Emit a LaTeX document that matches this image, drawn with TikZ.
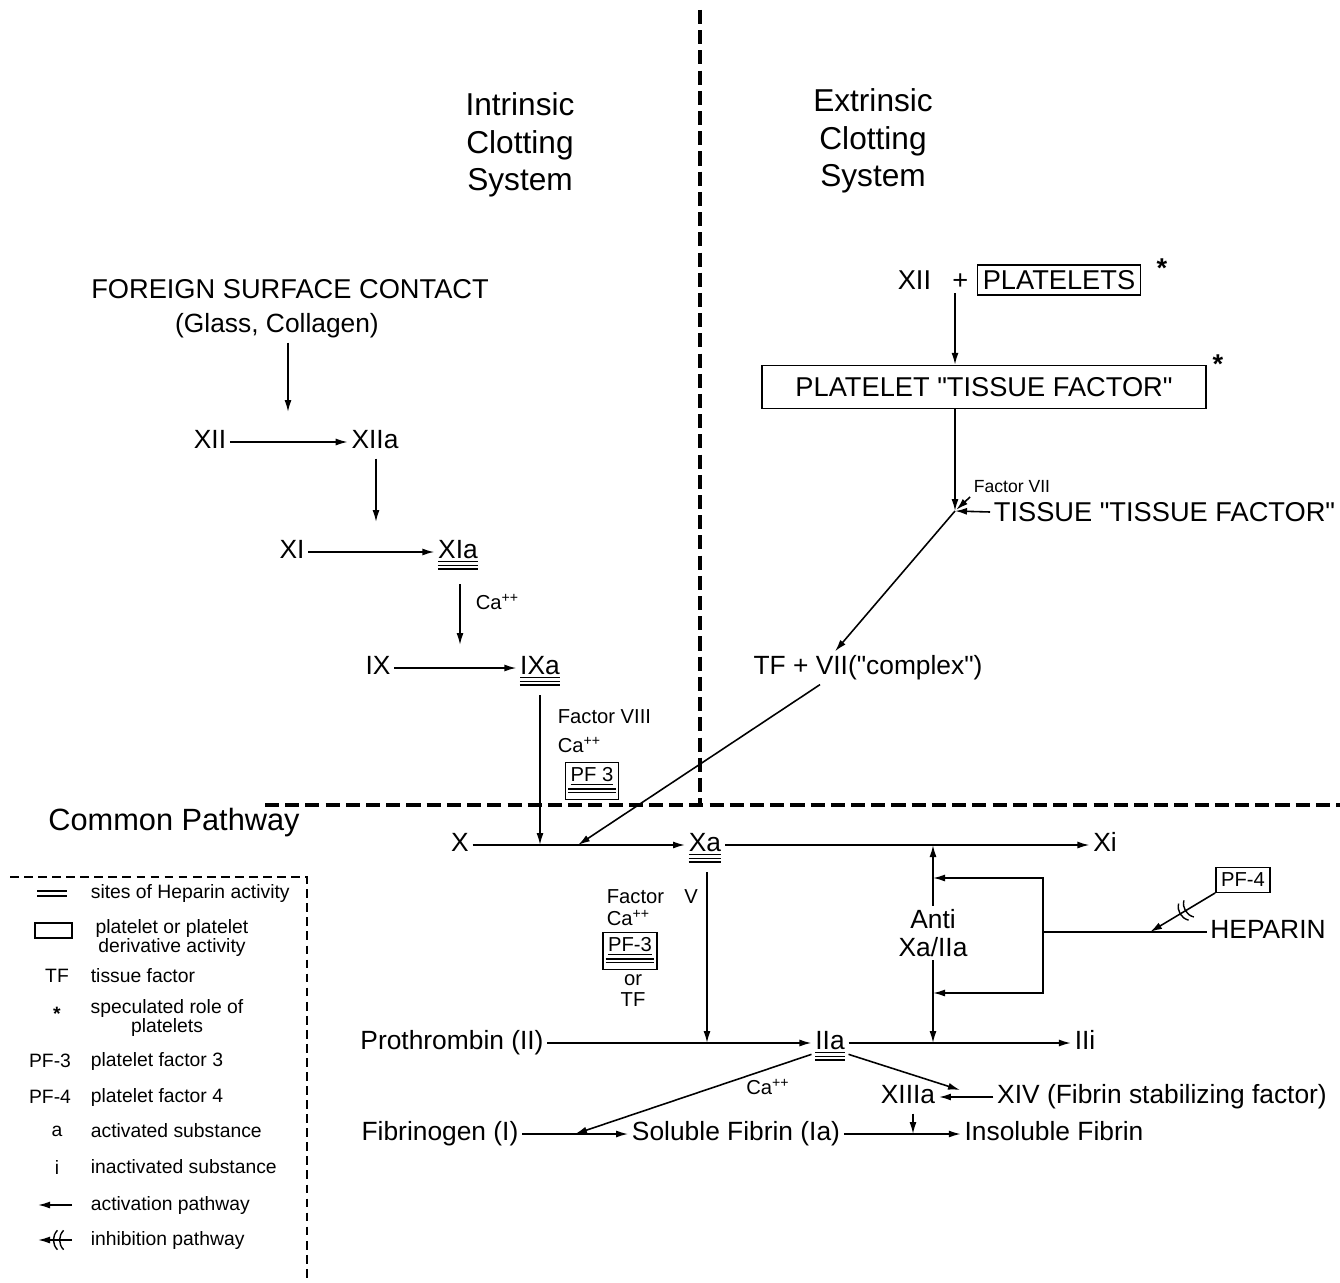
\documentclass[tikz,border=0pt]{standalone}
\usepackage{fontspec}
\setmainfont{Liberation Sans}
\usetikzlibrary{arrows.meta, positioning, decorations.markings}

\begin{document}
\begin{tikzpicture}[
  >={Latex[length=2.4mm, width=1.4mm]},
  every node/.style={inner sep=2pt},
  lbl/.style={font=\fontsize{15}{18}\selectfont, text height=11pt, text depth=3.5pt},
  caps/.style={font=\fontsize{15.5}{18}\selectfont},
  title/.style={font=\fontsize{18}{21.5}\selectfont, align=center},
  small/.style={font=\fontsize{11.5}{13}\selectfont},
  tiny/.style={font=\fontsize{10}{11}\selectfont},
  legend/.style={font=\fontsize{11}{9.5}\selectfont, align=center},
  box/.style={draw, line width=0.8pt, inner sep=3pt},
  hepline/.style={-, line width=0.8pt},
  hep/.style={append after command={
    ([xshift=2pt,yshift=-4pt]\tikzlastnode.base west) edge[hepline] ([xshift=-2pt,yshift=-4pt]\tikzlastnode.base east)
    ([xshift=2pt,yshift=-6pt]\tikzlastnode.base west) edge[hepline] ([xshift=-2pt,yshift=-6pt]\tikzlastnode.base east)}},
  arr/.style={->, line width=0.9pt},
  inh/.style={->, line width=0.9pt, decoration={markings, mark=at position #1 with {
      \draw[-, line width=0.8pt] (-2pt,-5.5pt) to[bend right=45] (-2pt,5.5pt);
      \draw[-, line width=0.8pt] (1.5pt,-5.5pt) to[bend right=45] (1.5pt,5.5pt);}},
    postaction={decorate}},
  inh/.default=0.5,
  divider/.style={line width=2.6pt, dash pattern=on 8pt off 3.5pt},
  legbox/.style={line width=0.7pt, dash pattern=on 5pt off 3pt},
]

\useasboundingbox (0,0) rectangle (26.8,-25.64);

% Dividers
\draw[divider] (14.0,-0.2) -- (14.0,-16.14);
\draw[divider] (5.3,-16.1) -- (26.8,-16.1);

% Titles
\node[title] (intr) at (10.4,-2.9) {Intrinsic\\Clotting\\System};
\node[title] (extr) at (17.46,-2.82) {Extrinsic\\Clotting\\System};
\node[title, anchor=west, font=\fontsize{17.5}{21}\selectfont] (common) at (0.89,-16.46) {Common Pathway};

% =============================================
% Intrinsic system
% =============================================
\node[caps] (fsc) at (5.8,-5.78) {FOREIGN SURFACE CONTACT};
\node[lbl] (glass) at (5.54,-6.52) {(Glass, Collagen)};
\node[lbl] (xii) at (4.2,-8.84) {XII};
\node[lbl] (xiia) at (7.5,-8.84) {XIIa};
\node[lbl] (xi) at (5.84,-11.04) {XI};
\node[lbl, hep] (xia) at (9.16,-11.04) {\underline{XIa}};
\node[lbl] (ix) at (7.56,-13.36) {IX};
\node[lbl, hep] (ixa) at (10.8,-13.36) {\underline{IXa}};

\coordinate (c1) at (5.76,-8.24);
\coordinate (c2) at (7.52,-10.44);
\coordinate (c3) at (9.2,-12.9);

\draw[arr] (glass.south -| c1) -- (c1);
\draw[arr] (xii) -- (xiia);
\draw[arr] (xiia.south -| c2) -- (c2);
\draw[arr] (xi) -- (xia);
\draw[arr, shorten <=9pt] (xia.south -| c3) -- (c3);
\node[small, anchor=west] (ca1) at (9.44,-12.04) {Ca\textsuperscript{++}};
\draw[arr] (ix) -- (ixa);

% IXa -> X
\node[small, anchor=west] (f8) at (11.08,-14.34) {Factor VIII};
\node[small, anchor=west] (ca2) at (11.08,-14.9) {Ca\textsuperscript{++}};
\node[small, box, hep, text depth=7pt] (pf3a) at (11.84,-15.62) {\underline{PF 3}};

% =============================================
% Extrinsic system
% =============================================
\node[caps] (xiipl) at (18.66,-5.6) {XII\enspace\ +};
\node[caps, box] (plat) at (21.18,-5.6) {PLATELETS};
\node[caps, font=\fontsize{15.5}{18}\bfseries] (st1) at (23.24,-5.37) {*};
\node[caps, box, minimum width=8.88cm, minimum height=0.86cm] (ptf) at (19.68,-7.74)
  {PLATELET \textquotedbl TISSUE FACTOR\textquotedbl};
\node[caps, font=\fontsize{15.5}{18}\bfseries] (st2) at (24.36,-7.29) {*};

\coordinate (jn) at (19.1,-10.22);
\draw[arr] (xiipl.south -| jn) -- (ptf.north -| jn);
\draw[arr] (ptf.south -| jn) -- (jn);
\node[tiny] (f7) at (20.24,-9.74) {Factor VII};
\draw[arr, shorten >=1pt] (f7.south west) -- (jn);
\node[caps, anchor=west] (tis) at (19.8,-10.24) {TISSUE \textquotedbl TISSUE FACTOR\textquotedbl};
\draw[arr] (tis.west) -- (jn);

\node[lbl] (tfc) at (17.36,-13.36) {TF + VII(\textquotedbl complex\textquotedbl)};
\draw[arr] (jn) -- ([xshift=-6.6mm]tfc.north);

% =============================================
% Common pathway
% =============================================
\node[lbl] (x) at (9.2,-16.9) {X};
\node[lbl, hep] (xa) at (14.1,-16.9) {\underline{Xa}};
\node[lbl] (xinact) at (22.1,-16.9) {Xi};
\draw[arr] (x) -- (xa);
\draw[arr] (xa) -- (xinact);

\coordinate (c4) at (10.8,-16.9);
\coordinate (c6) at (11.56,-16.9);
\draw[arr, shorten <=6pt] (ixa.south) -- (c4);
\draw[arr] ([xshift=-9.6mm]tfc.south) -- (c6);

% Xa -> IIa
\node[small, anchor=west] (f5) at (12.06,-17.94) {Factor\quad V};
\node[small, anchor=west] (ca3) at (12.06,-18.36) {Ca\textsuperscript{++}};
\node[small, box, hep, text depth=7pt] (pf3b) at (12.6,-19.02) {\underline{PF-3}};
\node[small] (or) at (12.66,-19.6) {or};
\node[small] (tf) at (12.66,-20.0) {TF};

\node[lbl] (pro) at (9.04,-20.86) {Prothrombin (II)};
\node[lbl, hep] (iia) at (16.6,-20.86) {\underline{IIa}};
\node[lbl] (iii) at (21.7,-20.86) {IIi};
\draw[arr] (pro) -- (iia);
\draw[arr] (iia) -- (iii);

\coordinate (c7) at (14.14,-20.86);
\draw[arr, shorten <=6pt] (xa.south -| c7) -- (c7);

% Heparin loop
\node[font=\fontsize{15}{15.5}\selectfont, align=center] (anti) at (18.66,-18.66) {Anti\\Xa/IIa};
\coordinate (c8) at (18.66,-16.9);
\coordinate (c9) at (18.66,-20.86);
\draw[arr] (anti.north) -- (c8);
\draw[arr] (anti.south) -- (c9);

\node[lbl] (heparin) at (25.36,-18.64) {HEPARIN};
\coordinate (hx) at (20.86,-18.64);
\coordinate (atop) at (18.66,-17.56);
\coordinate (abot) at (18.66,-19.86);
\coordinate (hin) at (23.0,-18.64);
\draw[line width=0.9pt] (heparin.west) -- (hx);
\draw[arr] (hx) |- (atop);
\draw[arr] (hx) |- (abot);

\node[small, box] (pf4) at (24.86,-17.6) {PF-4};
\draw[inh=0.45] (pf4.south west) -- (hin);

% Fibrin
\node[lbl] (fib) at (8.8,-22.68) {Fibrinogen (I)};
\node[lbl] (sol) at (14.72,-22.68) {Soluble Fibrin (Ia)};
\node[lbl] (insol) at (21.08,-22.68) {Insoluble Fibrin};
\draw[arr] (fib) -- (sol);
\draw[arr] (sol) -- (insol);

\coordinate (c10) at (11.5,-22.68);
\draw[arr] ([yshift=3pt]iia.south west) -- (c10);
\node[small] (ca4) at (15.36,-21.74) {Ca\textsuperscript{++}};

\node[lbl] (xiiia) at (18.16,-21.94) {XIIIa};
\node[lbl] (xiv) at (23.24,-21.94) {XIV (Fibrin stabilizing factor)};
\draw[arr] (xiv) -- (xiiia);
\coordinate (c11) at (19.2,-21.8);
\draw[arr] ([yshift=3pt]iia.south east) -- (c11);
\coordinate (c12) at (18.26,-22.68);
\draw[arr] (xiiia.south -| c12) -- (c12);

% =============================================
% Legend
% =============================================
\draw[legbox] (0.2,-17.54) -- (6.14,-17.54) -- (6.14,-25.64);

\draw[hepline] (0.74,-17.82) -- (1.34,-17.82);
\draw[hepline] (0.74,-17.92) -- (1.34,-17.92);
\node[legend, anchor=west] (lg1) at (1.74,-17.86) {sites of Heparin activity};

\draw[line width=0.8pt] (0.7,-18.46) rectangle (1.44,-18.76);
\node[legend] (lg2) at (3.44,-18.76) {platelet or platelet\\derivative activity};

\node[legend] (sy3) at (1.14,-19.52) {TF};
\node[legend, anchor=west] (lg3) at (1.74,-19.52) {tissue factor};

\node[legend, font=\fontsize{11}{9.5}\bfseries] (sy4) at (1.14,-20.28) {*};
\node[legend] (lg4) at (3.34,-20.36) {speculated role of\\platelets};

\node[legend] (sy5) at (1.0,-21.22) {PF-3};
\node[legend, anchor=west] (lg5) at (1.74,-21.22) {platelet factor 3};

\node[legend] (sy6) at (1.0,-21.94) {PF-4};
\node[legend, anchor=west] (lg6) at (1.74,-21.94) {platelet factor 4};

\node[legend] (sy7) at (1.14,-22.62) {a};
\node[legend, anchor=west] (lg7) at (1.74,-22.62) {activated substance};

\node[legend] (sy8) at (1.14,-23.34) {i};
\node[legend, anchor=west] (lg8) at (1.74,-23.34) {inactivated substance};

\node[legend, anchor=west] (lg9) at (1.74,-24.1) {activation pathway};
\coordinate (a9) at (0.76,-24.1);
\draw[arr] (lg9.west -| 1.44,0) -- (a9);

\node[legend, anchor=west] (lg10) at (1.74,-24.8) {inhibition pathway};
\coordinate (a10) at (0.76,-24.8);
\draw[inh=0.35] (lg10.west -| 1.44,0) -- (a10);

\end{tikzpicture}
\end{document}
